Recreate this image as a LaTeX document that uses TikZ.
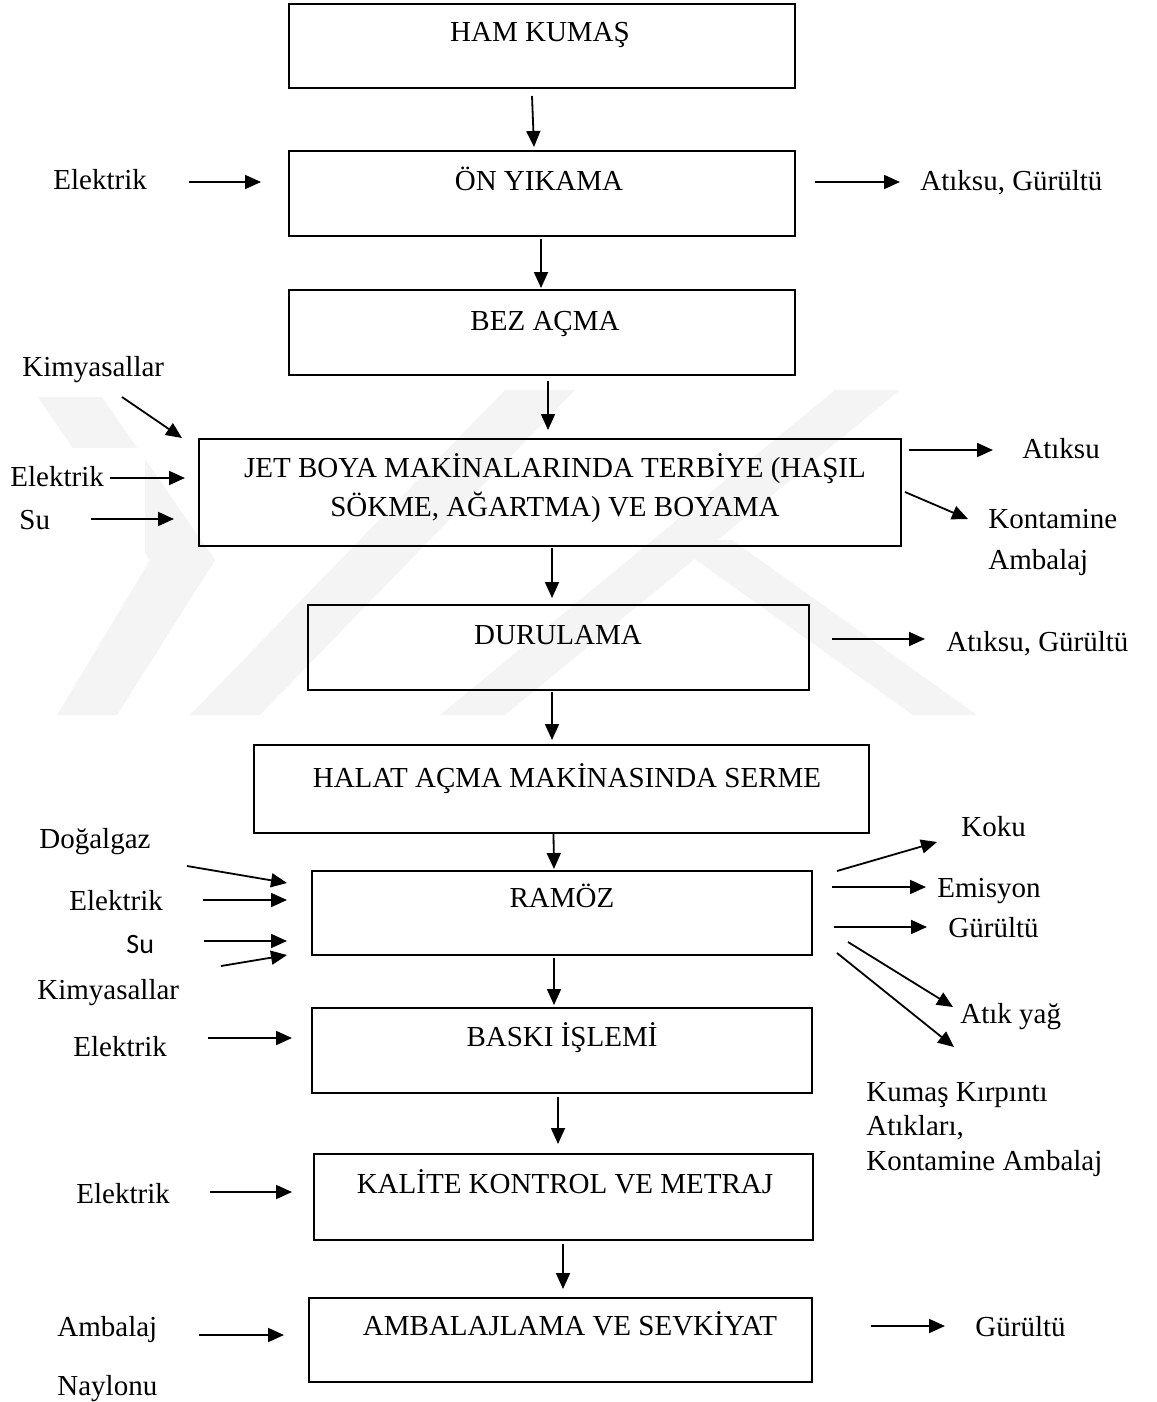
\documentclass[tikz,border=0pt]{standalone}
\usepackage{fontspec}
\setmainfont{Liberation Serif}
\newfontfamily\calibrifont{Carlito}
\usetikzlibrary{arrows.meta}
\begin{document}
\begin{tikzpicture}[x=0.5pt,y=-0.5pt,
  box/.style={draw, line width=1pt, inner sep=0pt},
  lbl/.style={font=\fontsize{14.5}{17.4}\selectfont, inner sep=0pt, anchor=base west},
  ctr/.style={font=\fontsize{14.5}{17.4}\selectfont, inner sep=0pt, anchor=base},
  arr/.style={-{Triangle[length=8pt,width=7pt]}, line width=0.9pt},
  wm/.style={fill=black!4.5, draw=none}]
\useasboundingbox (0,0) rectangle (1156,1402);
\fill[white] (0,0) rectangle (1156,1402);
% watermark
\fill[wm] (33,390) -- (97,390) -- (215,560) -- (117,715) -- (57,715) -- (150,560) -- cycle;
\fill[wm] (190,715) -- (260,715) -- (575,390) -- (505,390) -- cycle;
\fill[wm] (440,715) -- (505,715) -- (900,390) -- (835,390) -- cycle;
\fill[wm] (668,540) -- (732,540) -- (977,715) -- (913,715) -- cycle;
\fill[white] (0,330) rectangle (208,397);
\fill[white] (0,448) rectangle (145,560);
% boxes
\node[box, minimum width=253pt, minimum height=42pt] (hk) at (542,46) {};
\node[box, minimum width=253pt, minimum height=42.5pt] (ony) at (542,193.5) {};
\node[box, minimum width=253pt, minimum height=42.5pt] (bez) at (542,332.5) {};
\node[box, minimum width=351pt, minimum height=53.5pt] (jet) at (550,492.5) {};
\node[box, minimum width=250.5pt, minimum height=42.5pt] (dur) at (558.5,647.5) {};
\node[box, minimum width=307.5pt, minimum height=44pt] (hal) at (561.5,789) {};
\node[box, minimum width=250pt, minimum height=42pt] (ram) at (562,913) {};
\node[box, minimum width=250pt, minimum height=42.5pt] (bas) at (562,1050.5) {};
\node[box, minimum width=249.5pt, minimum height=43pt] (kal) at (563.5,1197) {};
\node[box, minimum width=251.5pt, minimum height=42pt] (amb) at (560.5,1340) {};
% box texts
\node[ctr] (thk) at (540,42) {HAM KUMAŞ};
\node[ctr] (tony) at (539,190) {ÖN YIKAMA};
\node[ctr] (tbez) at (545,330) {BEZ AÇMA};
\node[ctr] (tjet1) at (555,477) {JET BOYA MAKİNALARINDA TERBİYE (HAŞIL};
\node[ctr] (tjet2) at (555,516) {SÖKME, AĞARTMA) VE BOYAMA};
\node[ctr] (tdur) at (558,644) {DURULAMA};
\node[ctr] (thal) at (567,787) {HALAT AÇMA MAKİNASINDA SERME};
\node[ctr] (tram) at (562,907) {RAMÖZ};
\node[ctr] (tbas) at (562,1046) {BASKI İŞLEMİ};
\node[ctr] (tkal) at (565,1193) {KALİTE KONTROL VE METRAJ};
\node[ctr] (tamb) at (570,1335) {AMBALAJLAMA VE SEVKİYAT};
% side labels
\node[lbl] (el1) at (53,189) {Elektrik};
\node[lbl] (out1) at (920,190) {Atıksu, Gürültü};
\node[lbl] (kim1) at (22,376) {Kimyasallar};
\node[lbl] (el2) at (10,486) {Elektrik};
\node[lbl] (su1) at (19,529) {Su};
\node[lbl] (atk) at (1022,458) {Atıksu};
\node[lbl] (kon1) at (988,528) {Kontamine};
\node[lbl] (kon2) at (988,569) {Ambalaj};
\node[lbl] (out2) at (946,651) {Atıksu, Gürültü};
\node[lbl] (dog) at (39,848) {Doğalgaz};
\node[lbl] (el3) at (69,910) {Elektrik};
\node[lbl, font=\calibrifont\fontsize{14}{16.8}\selectfont] (su2) at (126,953) {Su};
\node[lbl] (kim2) at (37,999) {Kimyasallar};
\node[lbl] (koku) at (961,836) {Koku};
\node[lbl] (emis) at (937,897) {Emisyon};
\node[lbl] (gur1) at (948,937) {Gürültü};
\node[lbl] (atyag) at (960,1023) {Atık yağ};
\node[lbl] (kk1) at (866,1101) {Kumaş Kırpıntı};
\node[lbl] (kk2) at (866,1135) {Atıkları,};
\node[lbl] (kk3) at (866,1170) {Kontamine Ambalaj};
\node[lbl] (el4) at (73,1056) {Elektrik};
\node[lbl] (el5) at (76,1203) {Elektrik};
\node[lbl] (amb1) at (57,1336) {Ambalaj};
\node[lbl] (amb2) at (57,1395) {Naylonu};
\node[lbl] (gur2) at (975,1336) {Gürültü};
% vertical flow arrows
\draw[arr] ([shift={(-10,7)}]hk.south) -- ([shift={(-8,-3)}]ony.north);
\draw[arr] ([shift={(-1,2)}]ony.south) -- ([shift={(-1,-1)}]bez.north);
\draw[arr] ([shift={(6,5)}]bez.south) -- ([shift={(-2,-8)}]jet.north);
\draw[arr] ([shift={(2,1)}]jet.south) -- ([shift={(-6.5,-6)}]dur.north);
\draw[arr] ([shift={(-6.5,1)}]dur.south) -- ([shift={(-9.5,-4)}]hal.north);
\draw[arr] ([shift={(-8,0)}]hal.south) -- ([shift={(-8,-1)}]ram.north);
\draw[arr] ([shift={(-8,2)}]ram.south) -- ([shift={(-8,-2)}]bas.north);
\draw[arr] ([shift={(-4,3)}]bas.south) -- ([shift={(-5.5,-9)}]kal.north);
\draw[arr] ([shift={(-0.5,3)}]kal.south) -- ([shift={(2.5,-8)}]amb.north);
% side arrows
\draw[arr] ([shift={(136,-7)}]el1.base west) -- ([shift={(-27,-11.5)}]ony.west);
\draw[arr] ([shift={(19,-11.5)}]ony.east) -- ([shift={(-20,-8)}]out1.base west);
\draw[arr] ([shift={(100,21)}]kim1.base west) -- ([shift={(-16,0)}]jet.north west);
\draw[arr] ([shift={(100,-8)}]el2.base west) -- ([shift={(-13,-14.5)}]jet.west);
\draw[arr] ([shift={(72,-10)}]su1.base west) -- ([shift={(-24,26.5)}]jet.west);
\draw[arr] ([shift={(7,-42.5)}]jet.east) -- ([shift={(-29,-8)}]atk.base west);
\draw[arr] ([shift={(3,-0.5)}]jet.east) -- ([shift={(-20,-9)}]kon1.base west);
\draw[arr] ([shift={(22,-8.5)}]dur.east) -- ([shift={(-21,-12)}]out2.base west);
\draw[arr] ([shift={(148,18)}]dog.base west) -- ([shift={(-24,-30)}]ram.west);
\draw[arr] ([shift={(134,-10)}]el3.base west) -- ([shift={(-24,-13)}]ram.west);
\draw[arr] ([shift={(78,-12)}]su2.base west) -- ([shift={(-24,28)}]ram.west);
\draw[arr] ([shift={(184,-33)}]kim2.base west) -- ([shift={(-24,42)}]ram.west);
\draw[arr] ([shift={(24,-42)}]ram.east) -- ([shift={(-24,6)}]koku.base west);
\draw[arr] ([shift={(19,-26)}]ram.east) -- ([shift={(-11,-10)}]emis.base west);
\draw[arr] ([shift={(21,14)}]ram.east) -- ([shift={(-21,-10)}]gur1.base west);
\draw[arr] ([shift={(35,29)}]ram.east) -- ([shift={(-7,-16)}]atyag.base west);
\draw[arr] ([shift={(24,40)}]ram.east) -- ([shift={(88,-54)}]kk1.base west);
\draw[arr] ([shift={(135,-18)}]el4.base west) -- ([shift={(-19,-12.5)}]bas.west);
\draw[arr] ([shift={(134,-11)}]el5.base west) -- ([shift={(-21,-5)}]kal.west);
\draw[arr] ([shift={(142,-1)}]amb1.base west) -- ([shift={(-24,-5)}]amb.west);
\draw[arr] ([shift={(58,-14)}]amb.east) -- ([shift={(-30,-10)}]gur2.base west);
\end{tikzpicture}
\end{document}
